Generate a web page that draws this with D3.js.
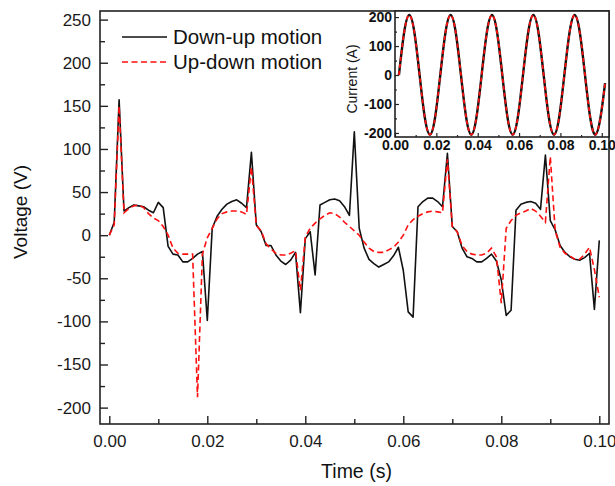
<!DOCTYPE html>
<html>
<head>
<meta charset="utf-8">
<script src="https://cdn.jsdelivr.net/npm/d3@7"></script>
<style>
  body { margin: 0; background: #fff; }
  svg { display: block; font-family: "Liberation Sans", Arial, sans-serif; }
</style>
</head>
<body>
<svg id="chart" width="615" height="486"></svg>
<script>
// sample times of the voltage traces (s), one sample every 1 ms
const timeS = [
  0.000, 0.001, 0.002, 0.003, 0.004, 0.005, 0.006, 0.007, 0.008, 0.009,
  0.010, 0.011, 0.012, 0.013, 0.014, 0.015, 0.016, 0.017, 0.018, 0.019,
  0.020, 0.021, 0.022, 0.023, 0.024, 0.025, 0.026, 0.027, 0.028, 0.029,
  0.030, 0.031, 0.032, 0.033, 0.034, 0.035, 0.036, 0.037, 0.038, 0.039,
  0.040, 0.041, 0.042, 0.043, 0.044, 0.045, 0.046, 0.047, 0.048, 0.049,
  0.050, 0.051, 0.052, 0.053, 0.054, 0.055, 0.056, 0.057, 0.058, 0.059,
  0.060, 0.061, 0.062, 0.063, 0.064, 0.065, 0.066, 0.067, 0.068, 0.069,
  0.070, 0.071, 0.072, 0.073, 0.074, 0.075, 0.076, 0.077, 0.078, 0.079,
  0.080, 0.081, 0.082, 0.083, 0.084, 0.085, 0.086, 0.087, 0.088, 0.089,
  0.090, 0.091, 0.092, 0.093, 0.094, 0.095, 0.096, 0.097, 0.098, 0.099,
  0.100
];

// voltage (V)
const voltageDownUp = [
  0, 15, 157, 28, 32, 35, 34, 33, 29, 26,
  38, 32, -13, -22, -23, -31, -31, -27, -22, -19,
  -99, 8, 22, 30, 36, 39, 41, 37, 32, 96,
  12, 4, -12, -12, -23, -30, -34, -29, -20, -90,
  -4, 4, -46, 35, 38, 41, 42, 40, 33, 23,
  120, 8, -15, -28, -33, -37, -34, -31, -24, -14,
  -41, -89, -95, 33, 39, 43, 43, 39, 33, 95,
  10, 4, -15, -25, -27, -31, -31, -27, -22, -30,
  -52, -93, -87, 29, 36, 38, 39, 37, 30, 93,
  17, 6, -12, -20, -25, -28, -29, -26, -21, -86,
  -6
];
const voltageUpDown = [
  0, 12, 150, 26, 31, 34, 35, 32, 25, 20,
  17, 10, 0, -15, -21, -22, -22, -22, -188, -22,
  -3, 8, 19, 25, 27, 28, 28, 27, 24, 79,
  11, 5, -10, -16, -21, -23, -23, -21, -18, -64,
  -2, 8, 14, 19, 23, 26, 25, 21, 15, 10,
  5, 0, -8, -15, -19, -20, -20, -17, -14, -8,
  0, 12, 18, 22, 25, 27, 28, 27, 26, 88,
  10, 4, -12, -19, -22, -23, -23, -21, -15, -25,
  -79, 8, 17, 23, 26, 28, 31, 28, 22, 15,
  91, 5, -14, -21, -24, -28, -28, -22, -14, -40,
  -72
];

// inset: current (A) sampled every eighth of a 50 Hz period
const currentTimeS = [
  0.0019, 0.0044, 0.0069, 0.0094, 0.0119, 0.0144, 0.0169, 0.0194,
  0.0219, 0.0244, 0.0269, 0.0294, 0.0319, 0.0344, 0.0369, 0.0394,
  0.0419, 0.0444, 0.0469, 0.0494, 0.0519, 0.0544, 0.0569, 0.0594,
  0.0619, 0.0644, 0.0669, 0.0694, 0.0719, 0.0744, 0.0769, 0.0794,
  0.0819, 0.0844, 0.0869, 0.0894, 0.0919, 0.0944, 0.0969, 0.0994,
  0.1016
];
const currentDownUp = [
  0, 146, 207, 146, 0, -146, -206, -146,
  0, 146, 207, 146, 0, -146, -206, -146,
  0, 146, 207, 146, 0, -146, -206, -146,
  0, 146, 207, 146, 0, -146, -206, -146,
  0, 146, 207, 146, 0, -146, -206, -146,
  -28
];
const currentUpDown = [
  0, 146, 207, 146, 0, -146, -206, -146,
  0, 146, 207, 146, 0, -146, -206, -146,
  0, 146, 207, 146, 0, -146, -206, -146,
  0, 146, 207, 146, 0, -146, -206, -146,
  0, 146, 207, 146, 0, -146, -206, -146,
  -28
];

// series names and tick labels
const seriesNames = ["Down-up motion", "Up-down motion"];
const timeTicks = [0, 0.02, 0.04, 0.06, 0.08, 0.10];
const timeMinorTicks = [0.01, 0.03, 0.05, 0.07, 0.09];
const voltageTicks = [-200, -150, -100, -50, 0, 50, 100, 150, 200, 250];
const voltageMinorTicks = [-175, -125, -75, -25, 25, 75, 125, 175, 225];
const currentTicks = [-200, -100, 0, 100, 200];
const currentMinorTicks = [-150, -50, 50, 150];

(function() {
    const svg = d3.select("#chart")
    const ink = "#222"

    // main plot frame
    const frame = {left: 100, right: 609, top: 11, bottom: 424}

    var x = d3.scaleLinear()
        .domain([-0.0019, 0.10198])
        .range([frame.left, frame.right])

    var y = d3.scaleLinear()
        .domain([-219, 260])
        .range([frame.bottom, frame.top])

    const styleAxis = (g, size) => {
        g.select(".domain").remove()
        g.selectAll("line").attr("stroke", ink).attr("stroke-width", 1.4)
        g.selectAll("text").attr("fill", "#1a1a1a").style("font-size", size)
    }

    // x axis, ticks pointing inward
    svg.append("g")
        .attr("transform", "translate(0," + frame.bottom + ")")
        .call(d3.axisBottom(x).tickValues(timeTicks).tickSize(-8).tickPadding(11)
            .tickFormat(d3.format(".2f")))
        .call((g) => styleAxis(g, "17px"))
    svg.append("g")
        .attr("transform", "translate(0," + frame.bottom + ")")
        .call(d3.axisBottom(x).tickValues(timeMinorTicks).tickSize(-5).tickFormat(""))
        .call((g) => styleAxis(g, "17px"))

    // y axis
    svg.append("g")
        .attr("transform", "translate(" + frame.left + ",0)")
        .call(d3.axisLeft(y).tickValues(voltageTicks).tickSize(-8).tickPadding(9)
            .tickFormat((d) => String(d)))
        .call((g) => styleAxis(g, "17px"))
    svg.append("g")
        .attr("transform", "translate(" + frame.left + ",0)")
        .call(d3.axisLeft(y).tickValues(voltageMinorTicks).tickSize(-5).tickFormat(""))
        .call((g) => styleAxis(g, "17px"))

    // axis titles
    svg.append("text")
        .attr("x", (frame.left + frame.right) / 2 + 2)
        .attr("y", 478)
        .attr("text-anchor", "middle")
        .attr("fill", "#111")
        .style("font-size", "19.5px")
        .text("Time (s)")

    svg.append("text")
        .attr("transform", "translate(20," + 212 + ") rotate(-90)")
        .attr("text-anchor", "middle")
        .attr("dy", "0.35em")
        .attr("fill", "#111")
        .style("font-size", "19px")
        .text("Voltage (V)")

    // voltage traces
    const voltageLine = d3.line()
        .x((d, i) => x(timeS[i]))
        .y((d) => y(d))

    svg.append("path")
        .datum(voltageDownUp)
        .attr("fill", "none")
        .attr("stroke", "#111")
        .attr("stroke-width", 1.6)
        .attr("stroke-linejoin", "round")
        .attr("d", voltageLine)

    svg.append("path")
        .datum(voltageUpDown)
        .attr("fill", "none")
        .attr("stroke", "#ff1010")
        .attr("stroke-width", 1.6)
        .attr("stroke-dasharray", "6,3.5")
        .attr("d", voltageLine)

    svg.append("rect")
        .attr("x", frame.left)
        .attr("y", frame.top)
        .attr("width", frame.right - frame.left)
        .attr("height", frame.bottom - frame.top)
        .attr("fill", "none")
        .attr("stroke", ink)
        .attr("stroke-width", 1.6)

    // legend
    var legend = svg.append("g")
        .selectAll("g")
        .data(seriesNames)
        .enter()
        .append("g")
        .attr("transform", (d, i) => "translate(0," + (37 + i * 25) + ")")

    legend.append("line")
        .attr("x1", 122)
        .attr("x2", 167)
        .attr("stroke", (d, i) => i == 0 ? "#111" : "#ff1010")
        .attr("stroke-width", 1.6)
        .attr("stroke-dasharray", (d, i) => i == 0 ? null : "6,3.5")

    legend.append("text")
        .attr("x", 173)
        .attr("dy", "0.35em")
        .attr("fill", "#111")
        .style("font-size", "20.5px")
        .text((d) => d)

    // inset: current
    const inset = {left: 395, right: 609, top: 11, bottom: 137}

    var xi = d3.scaleLinear()
        .domain([0, 0.1035])
        .range([inset.left, inset.right])

    var yi = d3.scaleLinear()
        .domain([-214, 221])
        .range([inset.bottom, inset.top])

    svg.append("rect")
        .attr("x", inset.left)
        .attr("y", inset.top)
        .attr("width", inset.right - inset.left)
        .attr("height", inset.bottom - inset.top)
        .attr("fill", "#fff")

    const currentLine = d3.line()
        .x((d, i) => xi(currentTimeS[i]))
        .y((d) => yi(d))
        .curve(d3.curveNatural)

    svg.append("path")
        .datum(currentDownUp)
        .attr("fill", "none")
        .attr("stroke", "#111")
        .attr("stroke-width", 2.4)
        .attr("d", currentLine)

    svg.append("path")
        .datum(currentUpDown)
        .attr("fill", "none")
        .attr("stroke", "#ff1010")
        .attr("stroke-width", 1.8)
        .attr("stroke-dasharray", "4,3")
        .attr("d", currentLine)

    const styleInset = (g) => {
        g.select(".domain").remove()
        g.selectAll("line").attr("stroke", ink).attr("stroke-width", 1.2)
        g.selectAll("text").attr("fill", "#111").style("font-size", "14px").style("font-weight", "bold")
    }

    svg.append("g")
        .attr("transform", "translate(0," + inset.bottom + ")")
        .call(d3.axisBottom(xi).tickValues(timeTicks).tickSize(-4).tickPadding(3)
            .tickFormat(d3.format(".2f")))
        .call(styleInset)
    svg.append("g")
        .attr("transform", "translate(0," + inset.bottom + ")")
        .call(d3.axisBottom(xi).tickValues(timeMinorTicks).tickSize(-2).tickFormat(""))
        .call(styleInset)

    svg.append("g")
        .attr("transform", "translate(" + inset.left + ",0)")
        .call(d3.axisLeft(yi).tickValues(currentTicks).tickSize(-4).tickPadding(3)
            .tickFormat((d) => String(d)))
        .call(styleInset)
    svg.append("g")
        .attr("transform", "translate(" + inset.left + ",0)")
        .call(d3.axisLeft(yi).tickValues(currentMinorTicks).tickSize(-2).tickFormat(""))
        .call(styleInset)

    svg.append("rect")
        .attr("x", inset.left)
        .attr("y", inset.top)
        .attr("width", inset.right - inset.left)
        .attr("height", inset.bottom - inset.top)
        .attr("fill", "none")
        .attr("stroke", ink)
        .attr("stroke-width", 1.6)

    svg.append("text")
        .attr("transform", "translate(352,79) rotate(-90)")
        .attr("text-anchor", "middle")
        .attr("dy", "0.35em")
        .attr("fill", "#111")
        .style("font-size", "14px")
        .text("Current (A)")
})();
</script>
</body>
</html>
